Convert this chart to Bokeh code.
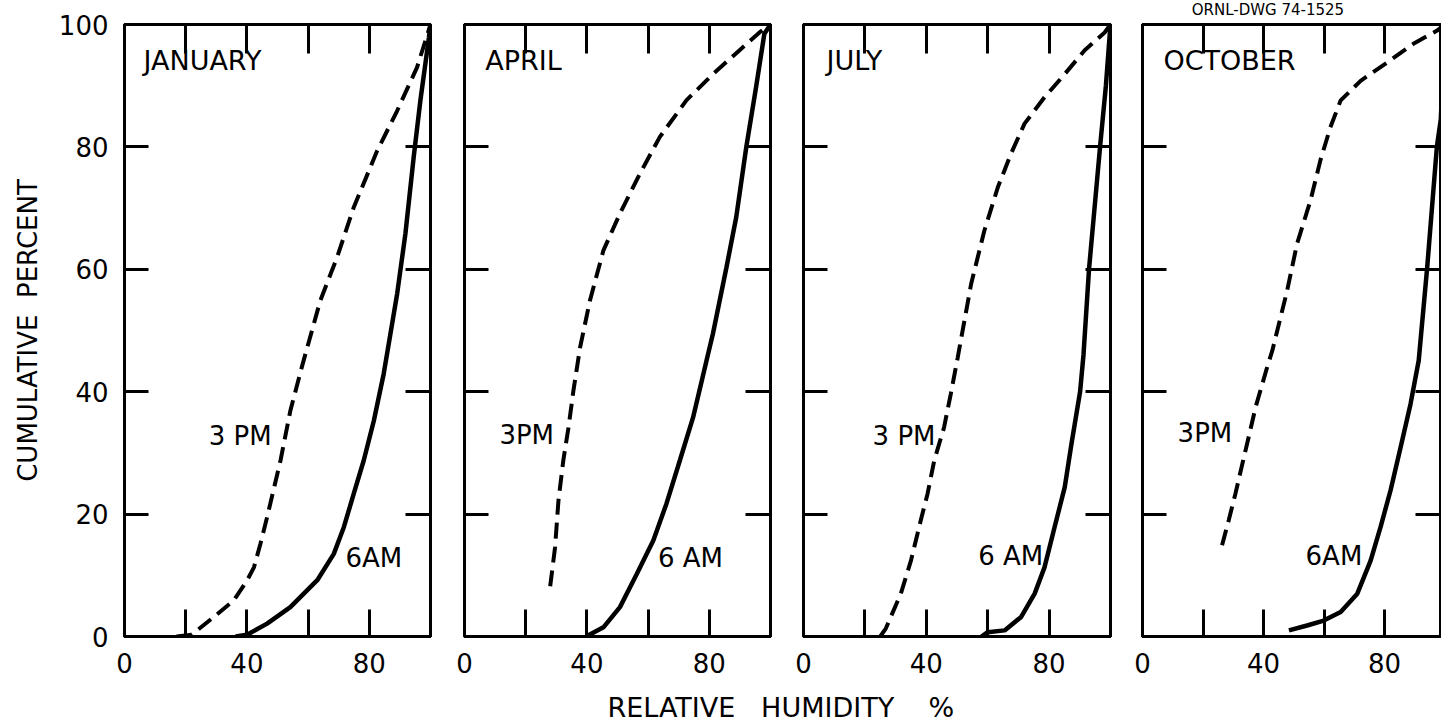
from bokeh.plotting import figure
from bokeh.models import LinearAxis, FixedTicker, Range1d, Label
from bokeh.layouts import row, column
from bokeh.embed import file_html
from bokeh.resources import INLINE
from bokeh.core.properties import value

FONT = "DejaVu Sans"

# ---------------- data ----------------
months = ["JANUARY", "APRIL", "JULY", "OCTOBER"]
pm_labels = ["3 PM", "3PM", "3 PM", "3PM"]
am_labels = ["6AM", "6 AM", "6 AM", "6AM"]

x_ticks = [0, 20, 40, 60, 80, 100]
x_tick_labels = {0: "0", 20: "", 40: "40", 60: "", 80: "80", 100: ""}
y_ticks = [0, 20, 40, 60, 80, 100]
y_tick_labels = {0: "0", 20: "20", 40: "40", 60: "60", 80: "80", 100: "100"}

x_title = "RELATIVE\u00a0\u00a0\u00a0HUMIDITY\u00a0\u00a0\u00a0\u00a0%"
y_title = "CUMULATIVE\u00a0\u00a0PERCENT"
drawing_id = "ORNL-DWG 74-1525"

jan_3pm_x = [17, 22, 29.2, 35.7, 40.1, 42.3, 44.4, 46.6, 51, 54.2, 58.1, 64, 69.5, 74.9, 82.6, 89.1, 95.6, 100]
jan_3pm_y = [0, 0.3, 3.2, 5.9, 9.2, 11.3, 15.1, 19.5, 28.8, 36.9, 44.3, 54.9, 62, 70.1, 79.4, 85.9, 93, 100]
jan_6am_x = [36.3, 40.1, 46.6, 54.2, 63, 68.4, 71.7, 74.9, 78.2, 81.5, 84.7, 89.1, 91.8, 94.5, 96.7, 99.5, 100]
jan_6am_y = [0, 0.3, 2.1, 4.8, 9.2, 13.5, 17.9, 23.3, 28.8, 35.3, 42.9, 56, 65.8, 78.3, 87.6, 97.9, 100]

apr_3pm_x = [28, 29.6, 30.7, 32.3, 34, 35.6, 37.8, 41, 45.4, 50.8, 57.3, 63.8, 72.5, 81.2, 89.9, 96.4, 100]
apr_3pm_y = [8.2, 14.6, 22.2, 28.8, 34.2, 40.2, 47.3, 54.9, 63.1, 69.1, 75.6, 81.6, 87.6, 91.9, 95.8, 98.7, 100]
apr_6am_x = [40.5, 45.4, 50.8, 56.3, 61.7, 66, 70.4, 74.7, 79.1, 81.2, 85.6, 88.8, 92.1, 95.3, 98, 100]
apr_6am_y = [0.2, 1.5, 4.8, 10.2, 15.7, 21.7, 28.8, 35.8, 45.1, 49.5, 60.3, 68.5, 80, 89.8, 98.5, 100]

jul_3pm_x = [25, 26.8, 31.7, 35, 38.2, 40.4, 42.6, 45.8, 48, 50.2, 54.6, 58.9, 63.3, 67.6, 72, 78.5, 85.1, 91.6, 98.1, 100]
jul_3pm_y = [0, 1.3, 7, 12.4, 19, 23.3, 28.8, 34.2, 39.7, 45.5, 57.6, 66.3, 73.4, 78.9, 83.8, 88.1, 91.9, 95.8, 98.7, 100]
jul_6am_x = [58, 60, 65.5, 70.9, 75.3, 78.5, 81.8, 85.1, 87.3, 90.1, 91.2, 93, 96.6, 98.5, 100]
jul_6am_y = [0, 0.7, 1, 3.2, 7, 11.3, 17.9, 24.4, 31.5, 40, 46, 60, 80, 90, 100]

oct_3pm_x = [26.3, 28.5, 30.7, 33, 35.1, 37.4, 41.2, 42.9, 47.8, 51.1, 55.5, 58.8, 62.1, 65.5, 72.1, 80.9, 89.7, 97.4, 100]
oct_3pm_y = [14.9, 19, 23.3, 28.2, 32.6, 37.5, 44, 46.7, 56.5, 64.2, 71.2, 77.8, 83.2, 87.6, 90.8, 93.8, 96.9, 99, 100]
oct_6am_x = [48.4, 54.4, 59.9, 65.5, 71, 75.4, 78.7, 82, 85.3, 88.6, 91.3, 94.1, 97.3, 98.6, 100]
oct_6am_y = [1, 1.8, 2.6, 4, 7, 12.4, 17.9, 23.9, 30.9, 38, 45.1, 60.3, 80, 84.5, 100]

pm_series = [(jan_3pm_x, jan_3pm_y), (apr_3pm_x, apr_3pm_y), (jul_3pm_x, jul_3pm_y), (oct_3pm_x, oct_3pm_y)]
am_series = [(jan_6am_x, jan_6am_y), (apr_6am_x, apr_6am_y), (jul_6am_x, jul_6am_y), (oct_6am_x, oct_6am_y)]

# label anchor positions (data units)
month_pos = [(6.2, 94.1), (6.8, 94.1), (7.5, 94.1), (6.9, 94.1)]
pm_pos = [(27.5, 32.8), (11.4, 33.0), (22.5, 32.8), (11.6, 33.2)]
am_pos = [(72.2, 12.9), (63.2, 12.9), (56.9, 13.1), (53.9, 13.1)]

# ---------------- layout ----------------
borders_left = [124, 17, 16, 16]
borders_right = [17, 17, 16, 1]
frame_widths = [306, 306, 307, 298]
x_max = [100, 100, 100, 98.5]
FRAME_H = 612
TOP = 24
BOTTOM = 48
ID_STRIP = 18
BOTTOM_STRIP = 40
TOTAL_W = 1441


def make_axis(ticks, labels, tick_in, show_labels):
    ax = LinearAxis(ticker=FixedTicker(ticks=ticks))
    ax.axis_line_width = 3
    ax.axis_line_color = "black"
    ax.major_tick_in = tick_in
    ax.major_tick_out = 0
    ax.major_tick_line_width = 3
    ax.major_tick_line_color = "black"
    ax.minor_tick_line_color = None
    if show_labels:
        ax.major_label_overrides = labels
        ax.major_label_text_font = FONT
        ax.major_label_text_font_size = "26px"
        ax.major_label_text_color = "black"
        ax.major_label_standoff = 16
    else:
        ax.major_label_overrides = {t: "" for t in ticks}
        ax.major_label_text_font_size = "0px"
        ax.major_label_standoff = 0
    return ax


def strip_figure(w, h):
    s = figure(width=w, height=h, x_range=Range1d(0, w), y_range=Range1d(0, h),
               output_backend="svg", toolbar_location=None,
               x_axis_location=None, y_axis_location=None, min_border=0,
               background_fill_color="white", border_fill_color="white")
    s.outline_line_color = None
    s.xgrid.visible = False
    s.ygrid.visible = False
    return s


panels = []
for i in range(4):
    top_border = TOP - ID_STRIP if i == 3 else TOP
    p = figure(frame_width=frame_widths[i], frame_height=FRAME_H,
               x_range=Range1d(0, x_max[i]), y_range=Range1d(0, 100),
               output_backend="svg", toolbar_location=None,
               x_axis_location=None, y_axis_location=None,
               min_border_left=borders_left[i], min_border_right=borders_right[i],
               min_border_top=top_border, min_border_bottom=BOTTOM,
               background_fill_color="white", border_fill_color="white")
    p.outline_line_color = "black"
    p.outline_line_width = 3
    p.xgrid.visible = False
    p.ygrid.visible = False

    bottom = make_axis(x_ticks, x_tick_labels, 27, True)
    top = make_axis(x_ticks, x_tick_labels, 29, False)
    left = make_axis(y_ticks, y_tick_labels, 24, i == 0)
    right = make_axis(y_ticks, y_tick_labels, 25, False)
    if i == 0:
        left.axis_label = y_title
        left.axis_label_text_font = FONT
        left.axis_label_text_font_size = "26px"
        left.axis_label_text_font_style = "normal"
        left.axis_label_text_color = "black"
        left.axis_label_standoff = 13
    p.add_layout(bottom, "below")
    p.add_layout(top, "above")
    p.add_layout(left, "left")
    p.add_layout(right, "right")

    px, py = pm_series[i]
    p.line(px, py, line_color="black", line_width=4, line_dash="16 8")
    ax_, ay_ = am_series[i]
    p.line(ax_, ay_, line_color="black", line_width=4.5)

    p.add_layout(Label(x=month_pos[i][0], y=month_pos[i][1], text=months[i],
                       text_font=FONT, text_font_size="27px", text_color="black",
                       text_baseline="middle", text_align="left"))
    p.add_layout(Label(x=pm_pos[i][0], y=pm_pos[i][1], text=pm_labels[i],
                       text_font=FONT, text_font_size="26px", text_color="black",
                       text_baseline="middle", text_align="left"))
    p.add_layout(Label(x=am_pos[i][0], y=am_pos[i][1], text=am_labels[i],
                       text_font=FONT, text_font_size="26px", text_color="black",
                       text_baseline="middle", text_align="left"))
    panels.append(p)

# drawing number strip above the last panel
last_w = borders_left[3] + frame_widths[3] + borders_right[3]
id_strip = strip_figure(last_w, ID_STRIP)
id_strip.text(x=[52], y=[9], text=[drawing_id], text_font=value(FONT), text_font_size="15px",
              text_color="black", text_baseline="middle", text_align="left")

# bottom strip: shared x-axis title
bottom_strip = strip_figure(TOTAL_W, BOTTOM_STRIP)
bottom_strip.text(x=[607], y=[17], text=[x_title], text_font=value(FONT), text_font_size="27px",
                  text_color="black", text_baseline="middle", text_align="left")

layout = column(row(panels[0], panels[1], panels[2], column(id_strip, panels[3])), bottom_strip)

open("out.html", "w").write(file_html(layout, INLINE))
